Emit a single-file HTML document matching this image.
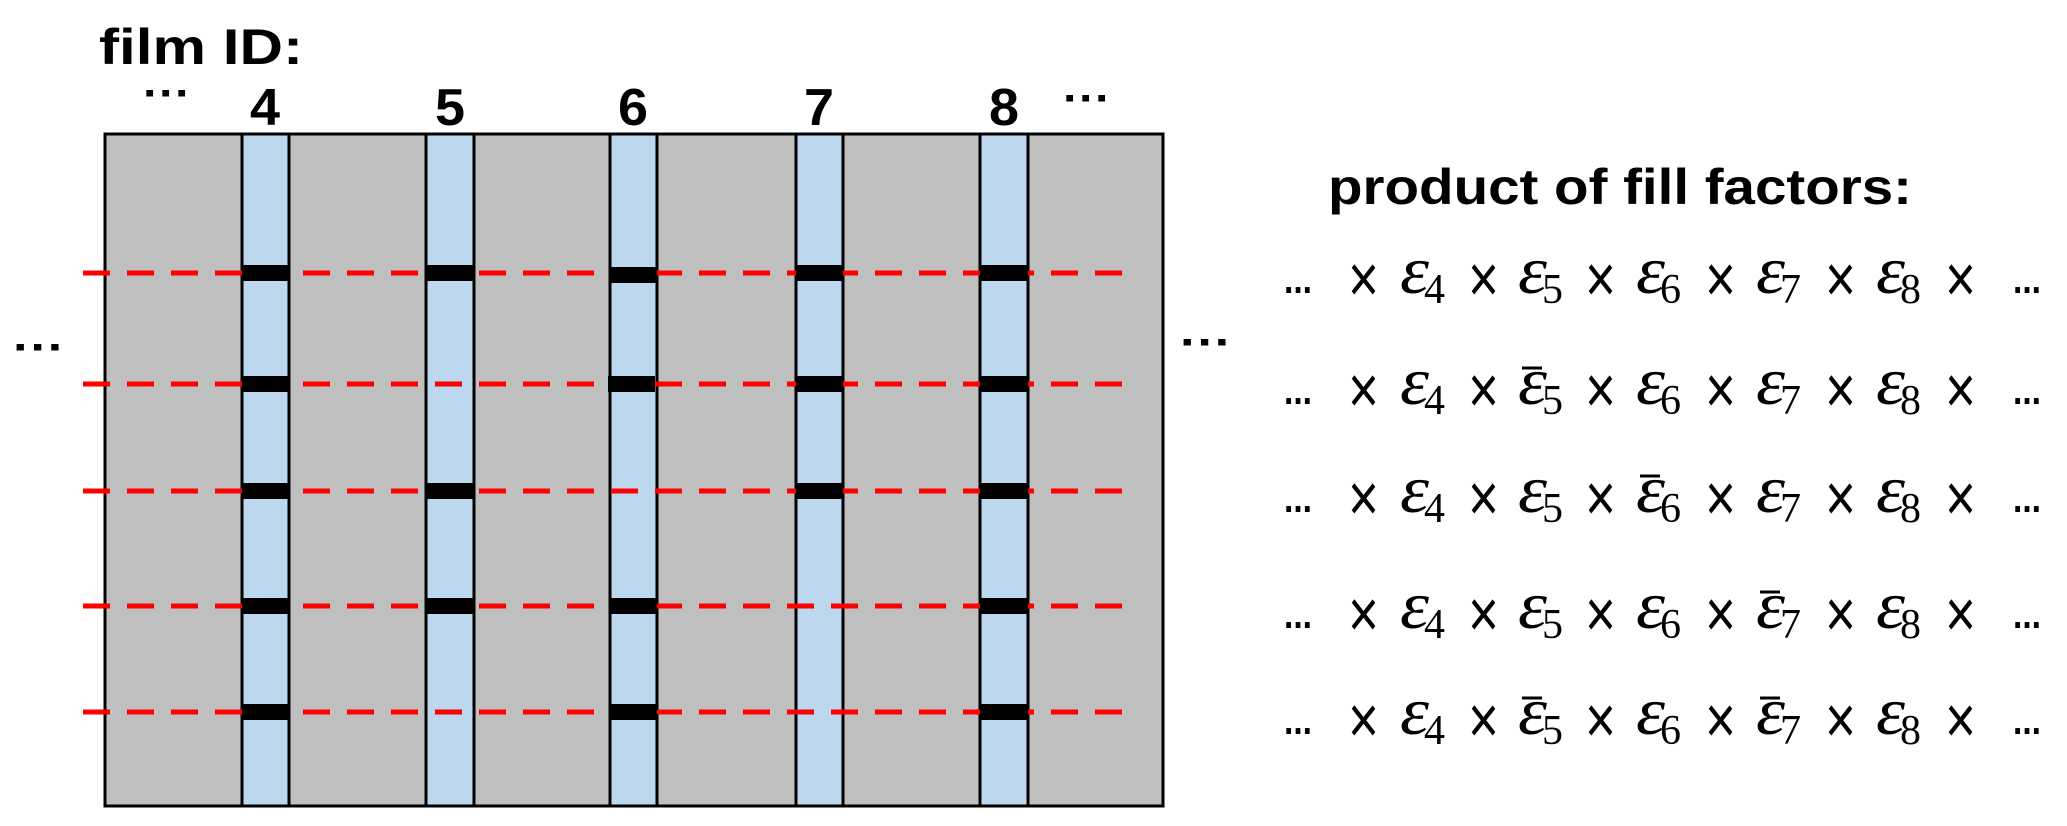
<!DOCTYPE html>
<html><head><meta charset="utf-8"><style>
html,body{margin:0;padding:0;background:#fff;}
svg{display:block;}
.b{font-family:"Liberation Sans",sans-serif;font-weight:bold;}
.e{font-family:"Liberation Serif",serif;font-style:italic;font-size:68px;}
.s{font-family:"Liberation Serif",serif;font-size:42px;}
.x{font-family:"Liberation Sans",sans-serif;font-size:68px;}
.d{font-family:"Liberation Sans",sans-serif;font-weight:bold;font-size:44px;}
.f{font-family:"Liberation Sans",sans-serif;font-weight:bold;font-size:40px;}
</style></head><body>
<svg width="2067" height="826" viewBox="0 0 2067 826" xmlns="http://www.w3.org/2000/svg">
<rect x="105" y="134" width="1058" height="672" fill="#bfbfbf" stroke="#000" stroke-width="3"/>
<g fill="#bdd7ee" stroke="#000" stroke-width="3">
<rect x="242" y="134" width="47" height="672"/>
<rect x="426" y="134" width="48" height="672"/>
<rect x="610" y="134" width="47" height="672"/>
<rect x="796" y="134" width="47" height="672"/>
<rect x="980" y="134" width="48" height="672"/>
</g>
<g stroke="#f00" stroke-width="5" stroke-dasharray="27 17">
<line x1="83" y1="273" x2="1131" y2="273"/>
<line x1="83" y1="384" x2="1131" y2="384"/>
<line x1="83" y1="491" x2="1131" y2="491"/>
<line x1="83" y1="606" x2="1131" y2="606"/>
<line x1="83" y1="712" x2="1131" y2="712"/>
</g>
<g fill="#000">
<rect x="242" y="265" width="47" height="16"/><rect x="242" y="376" width="47" height="16"/><rect x="242" y="483" width="47" height="16"/><rect x="242" y="598" width="47" height="16"/><rect x="242" y="704" width="47" height="16"/>
<rect x="426" y="265" width="48" height="16"/><rect x="426" y="483" width="48" height="16"/><rect x="426" y="598" width="48" height="16"/>
<rect x="610" y="267" width="47" height="16"/><rect x="608" y="376" width="47" height="16"/><rect x="610" y="598" width="47" height="16"/><rect x="610" y="704" width="47" height="16"/>
<rect x="796" y="265" width="47" height="16"/><rect x="796" y="376" width="47" height="16"/><rect x="796" y="483" width="47" height="16"/>
<rect x="980" y="265" width="48" height="16"/><rect x="980" y="376" width="48" height="16"/><rect x="980" y="483" width="48" height="16"/><rect x="980" y="598" width="48" height="16"/><rect x="980" y="704" width="48" height="16"/>
</g>
<text class="b" x="99" y="64" font-size="50" textLength="204" lengthAdjust="spacingAndGlyphs">film ID:</text>
<g class="b" font-size="52" text-anchor="middle">
<text x="265" y="125" textLength="30" lengthAdjust="spacingAndGlyphs">4</text><text x="450" y="125" textLength="30" lengthAdjust="spacingAndGlyphs">5</text><text x="633" y="125" textLength="30" lengthAdjust="spacingAndGlyphs">6</text><text x="819" y="125" textLength="30" lengthAdjust="spacingAndGlyphs">7</text><text x="1004" y="125" textLength="30" lengthAdjust="spacingAndGlyphs">8</text>
</g>
<text class="d" x="143" y="108" textLength="48" lengthAdjust="spacingAndGlyphs">···</text>
<text class="d" x="1063" y="113" textLength="48" lengthAdjust="spacingAndGlyphs">···</text>
<text class="d" x="13" y="362" textLength="52" lengthAdjust="spacingAndGlyphs">···</text>
<text class="d" x="1180" y="357" textLength="52" lengthAdjust="spacingAndGlyphs">···</text>
<text class="b" x="1328" y="204" font-size="50" textLength="584" lengthAdjust="spacingAndGlyphs">product of fill factors:</text>

<g transform="translate(0,293)">
<text class="f" x="1284" y="0" textLength="28" lengthAdjust="spacingAndGlyphs">...</text>
<text class="x" x="1348" y="9" textLength="31" lengthAdjust="spacingAndGlyphs">×</text><text class="e" x="1400" y="0" textLength="29" lengthAdjust="spacingAndGlyphs">ε</text><text class="s" x="1424" y="10">4</text>
<text class="x" x="1468" y="9" textLength="31" lengthAdjust="spacingAndGlyphs">×</text><text class="e" x="1518" y="0" textLength="29" lengthAdjust="spacingAndGlyphs">ε</text><text class="s" x="1542" y="10">5</text>
<text class="x" x="1585" y="9" textLength="31" lengthAdjust="spacingAndGlyphs">×</text><text class="e" x="1636" y="0" textLength="29" lengthAdjust="spacingAndGlyphs">ε</text><text class="s" x="1660" y="10">6</text>
<text class="x" x="1705" y="9" textLength="31" lengthAdjust="spacingAndGlyphs">×</text><text class="e" x="1756" y="0" textLength="29" lengthAdjust="spacingAndGlyphs">ε</text><text class="s" x="1780" y="10">7</text>
<text class="x" x="1825" y="9" textLength="31" lengthAdjust="spacingAndGlyphs">×</text><text class="e" x="1876" y="0" textLength="29" lengthAdjust="spacingAndGlyphs">ε</text><text class="s" x="1900" y="10">8</text>
<text class="x" x="1945" y="9" textLength="31" lengthAdjust="spacingAndGlyphs">×</text><text class="f" x="2013" y="0" textLength="28" lengthAdjust="spacingAndGlyphs">...</text>
</g>
<g transform="translate(0,404)">
<text class="f" x="1284" y="0" textLength="28" lengthAdjust="spacingAndGlyphs">...</text>
<text class="x" x="1348" y="9" textLength="31" lengthAdjust="spacingAndGlyphs">×</text><text class="e" x="1400" y="0" textLength="29" lengthAdjust="spacingAndGlyphs">ε</text><text class="s" x="1424" y="10">4</text>
<text class="x" x="1468" y="9" textLength="31" lengthAdjust="spacingAndGlyphs">×</text><text class="e" x="1518" y="0" textLength="29" lengthAdjust="spacingAndGlyphs">ε</text><text class="s" x="1542" y="10">5</text>
<text class="x" x="1585" y="9" textLength="31" lengthAdjust="spacingAndGlyphs">×</text><text class="e" x="1636" y="0" textLength="29" lengthAdjust="spacingAndGlyphs">ε</text><text class="s" x="1660" y="10">6</text>
<text class="x" x="1705" y="9" textLength="31" lengthAdjust="spacingAndGlyphs">×</text><text class="e" x="1756" y="0" textLength="29" lengthAdjust="spacingAndGlyphs">ε</text><text class="s" x="1780" y="10">7</text>
<text class="x" x="1825" y="9" textLength="31" lengthAdjust="spacingAndGlyphs">×</text><text class="e" x="1876" y="0" textLength="29" lengthAdjust="spacingAndGlyphs">ε</text><text class="s" x="1900" y="10">8</text>
<text class="x" x="1945" y="9" textLength="31" lengthAdjust="spacingAndGlyphs">×</text><text class="f" x="2013" y="0" textLength="28" lengthAdjust="spacingAndGlyphs">...</text>
<line x1="1522" y1="-36" x2="1542" y2="-36" stroke="#000" stroke-width="3"/>
</g>
<g transform="translate(0,512)">
<text class="f" x="1284" y="0" textLength="28" lengthAdjust="spacingAndGlyphs">...</text>
<text class="x" x="1348" y="9" textLength="31" lengthAdjust="spacingAndGlyphs">×</text><text class="e" x="1400" y="0" textLength="29" lengthAdjust="spacingAndGlyphs">ε</text><text class="s" x="1424" y="10">4</text>
<text class="x" x="1468" y="9" textLength="31" lengthAdjust="spacingAndGlyphs">×</text><text class="e" x="1518" y="0" textLength="29" lengthAdjust="spacingAndGlyphs">ε</text><text class="s" x="1542" y="10">5</text>
<text class="x" x="1585" y="9" textLength="31" lengthAdjust="spacingAndGlyphs">×</text><text class="e" x="1636" y="0" textLength="29" lengthAdjust="spacingAndGlyphs">ε</text><text class="s" x="1660" y="10">6</text>
<text class="x" x="1705" y="9" textLength="31" lengthAdjust="spacingAndGlyphs">×</text><text class="e" x="1756" y="0" textLength="29" lengthAdjust="spacingAndGlyphs">ε</text><text class="s" x="1780" y="10">7</text>
<text class="x" x="1825" y="9" textLength="31" lengthAdjust="spacingAndGlyphs">×</text><text class="e" x="1876" y="0" textLength="29" lengthAdjust="spacingAndGlyphs">ε</text><text class="s" x="1900" y="10">8</text>
<text class="x" x="1945" y="9" textLength="31" lengthAdjust="spacingAndGlyphs">×</text><text class="f" x="2013" y="0" textLength="28" lengthAdjust="spacingAndGlyphs">...</text>
<line x1="1640" y1="-36" x2="1660" y2="-36" stroke="#000" stroke-width="3"/>
</g>
<g transform="translate(0,628)">
<text class="f" x="1284" y="0" textLength="28" lengthAdjust="spacingAndGlyphs">...</text>
<text class="x" x="1348" y="9" textLength="31" lengthAdjust="spacingAndGlyphs">×</text><text class="e" x="1400" y="0" textLength="29" lengthAdjust="spacingAndGlyphs">ε</text><text class="s" x="1424" y="10">4</text>
<text class="x" x="1468" y="9" textLength="31" lengthAdjust="spacingAndGlyphs">×</text><text class="e" x="1518" y="0" textLength="29" lengthAdjust="spacingAndGlyphs">ε</text><text class="s" x="1542" y="10">5</text>
<text class="x" x="1585" y="9" textLength="31" lengthAdjust="spacingAndGlyphs">×</text><text class="e" x="1636" y="0" textLength="29" lengthAdjust="spacingAndGlyphs">ε</text><text class="s" x="1660" y="10">6</text>
<text class="x" x="1705" y="9" textLength="31" lengthAdjust="spacingAndGlyphs">×</text><text class="e" x="1756" y="0" textLength="29" lengthAdjust="spacingAndGlyphs">ε</text><text class="s" x="1780" y="10">7</text>
<text class="x" x="1825" y="9" textLength="31" lengthAdjust="spacingAndGlyphs">×</text><text class="e" x="1876" y="0" textLength="29" lengthAdjust="spacingAndGlyphs">ε</text><text class="s" x="1900" y="10">8</text>
<text class="x" x="1945" y="9" textLength="31" lengthAdjust="spacingAndGlyphs">×</text><text class="f" x="2013" y="0" textLength="28" lengthAdjust="spacingAndGlyphs">...</text>
<line x1="1760" y1="-36" x2="1780" y2="-36" stroke="#000" stroke-width="3"/>
</g>
<g transform="translate(0,734)">
<text class="f" x="1284" y="0" textLength="28" lengthAdjust="spacingAndGlyphs">...</text>
<text class="x" x="1348" y="9" textLength="31" lengthAdjust="spacingAndGlyphs">×</text><text class="e" x="1400" y="0" textLength="29" lengthAdjust="spacingAndGlyphs">ε</text><text class="s" x="1424" y="10">4</text>
<text class="x" x="1468" y="9" textLength="31" lengthAdjust="spacingAndGlyphs">×</text><text class="e" x="1518" y="0" textLength="29" lengthAdjust="spacingAndGlyphs">ε</text><text class="s" x="1542" y="10">5</text>
<text class="x" x="1585" y="9" textLength="31" lengthAdjust="spacingAndGlyphs">×</text><text class="e" x="1636" y="0" textLength="29" lengthAdjust="spacingAndGlyphs">ε</text><text class="s" x="1660" y="10">6</text>
<text class="x" x="1705" y="9" textLength="31" lengthAdjust="spacingAndGlyphs">×</text><text class="e" x="1756" y="0" textLength="29" lengthAdjust="spacingAndGlyphs">ε</text><text class="s" x="1780" y="10">7</text>
<text class="x" x="1825" y="9" textLength="31" lengthAdjust="spacingAndGlyphs">×</text><text class="e" x="1876" y="0" textLength="29" lengthAdjust="spacingAndGlyphs">ε</text><text class="s" x="1900" y="10">8</text>
<text class="x" x="1945" y="9" textLength="31" lengthAdjust="spacingAndGlyphs">×</text><text class="f" x="2013" y="0" textLength="28" lengthAdjust="spacingAndGlyphs">...</text>
<line x1="1522" y1="-36" x2="1542" y2="-36" stroke="#000" stroke-width="3"/>
<line x1="1760" y1="-36" x2="1780" y2="-36" stroke="#000" stroke-width="3"/>
</g>
</svg>
</body></html>
